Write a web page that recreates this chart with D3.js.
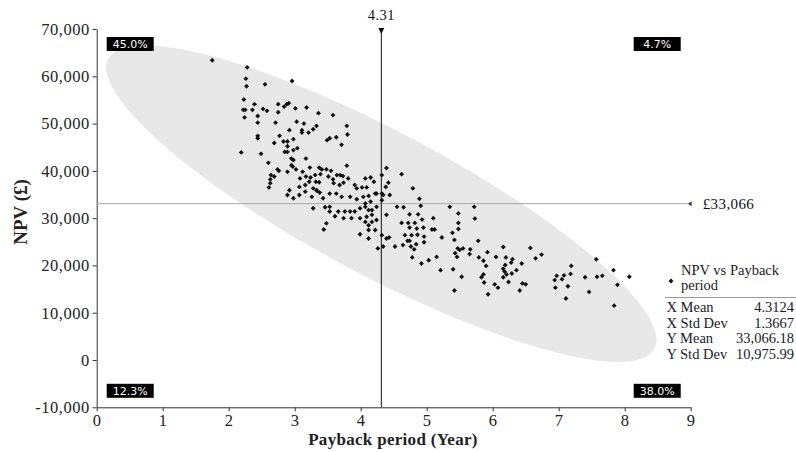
<!DOCTYPE html>
<html><head><meta charset="utf-8">
<script src="https://cdn.jsdelivr.net/npm/d3@7"></script>
<style>body{margin:0;background:#fff}svg{display:block}</style>
</head><body><svg id="c" width="796" height="452"></svg>
<script>
// ---- data ----
const paybackYears = [
1.75,2.28,2.26,2.27,2.55,2.96,2.23,2.22,2.25,2.36,2.39,2.52,2.58,2.24,2.44,2.44,2.75,2.84,2.88,2.91,
2.75,3.01,3.18,3.36,3.58,2.71,3.03,3.14,2.92,3.11,3.11,3.21,3.28,3.33,3.79,3.80,2.44,2.44,2.77,2.69,
2.83,2.89,2.98,2.89,2.85,2.89,2.98,3.04,3.49,3.53,3.63,3.71,2.19,2.49,2.95,2.98,2.95,2.97,3.17,2.60,
2.74,2.76,2.89,3.02,3.12,3.23,3.37,3.41,3.48,3.55,3.79,4.39,2.64,2.69,2.63,2.63,2.61,3.08,3.17,3.24,
3.31,3.39,3.51,3.58,3.64,3.69,3.73,3.81,3.22,3.32,3.37,3.59,3.68,3.74,3.07,3.16,3.28,3.33,2.92,3.91,
4.07,4.15,4.20,4.09,4.02,3.94,4.32,4.38,4.42,
2.89,2.98,3.07,3.16,3.26,3.34,3.38,3.43,3.53,3.63,3.71,3.84,3.94,4.04,4.12,4.22,4.24,4.32,4.34,4.44,
4.32,3.28,3.46,3.53,3.53,3.66,3.76,3.84,3.91,3.99,4.07,4.12,4.17,4.24,4.07,4.15,3.61,3.74,3.86,3.99,
4.09,4.17,4.39,4.55,3.48,3.44,4.07,4.12,4.17,4.24,4.12,4.22,4.32,4.43,4.39,3.99,4.12,4.26,4.34,4.52,
4.62,4.79,4.89,4.65,4.91,4.74,4.87,4.62,4.72,4.82,4.93,5.10,5.12,4.74,4.85,4.95,5.08,4.67,4.77,4.86,
4.96,4.71,4.74,4.84,4.96,4.64,4.76,4.81,4.78,4.92,5.03,5.15,5.21,5.23,5.35,5.48,5.72,5.73,5.48,5.48,
5.39,5.42,5.78,5.47,5.50,5.55,5.66,5.43,5.46,5.65,5.40,5.53,5.42,5.92,5.79,5.86,5.90,6.05,6.16,5.83,
5.86,5.87,5.93,6.03,6.08,6.20,6.30,6.28,6.19,6.16,6.18,6.21,6.29,6.36,6.44,6.16,6.24,6.41,6.45,6.50,
6.57,6.65,6.74,6.94,6.97,6.95,7.05,7.08,7.14,7.11,7.18,7.19,7.40,7.46,7.58,7.66,7.83,7.89,7.84,8.07,
7.57];
const npvValues = [
63400,61900,59500,57900,58300,59000,55100,52900,52900,52900,54100,53100,52700,51300,51600,50200,54100,53600,54100,54300,
52400,53200,53400,52200,51800,50200,50400,50000,48600,48600,48100,48100,48800,49500,49500,47700,47400,46900,47400,45900,
46200,46200,46700,45200,44000,44000,44400,44800,46500,46900,47100,45500,43900,43600,42600,42300,41200,40900,42600,41700,
40300,40000,39800,40300,39800,40700,40700,40300,40300,40000,41100,40600,39100,38800,38200,37400,36500,38400,38800,38600,
39100,39300,38800,38200,39100,39100,38900,38400,37700,37700,37600,37400,37000,37500,36600,37000,36300,35900,35900,37000,
38400,38600,37700,36500,36500,36300,39100,36600,37500,
34900,34200,34900,35600,34500,35800,35400,34200,35200,35200,34500,34500,34000,34500,34700,35200,35200,35200,34900,34900,
33800,32100,32300,32400,31400,31400,31400,31400,31400,32100,32400,31700,31700,32400,33100,33500,30400,30000,30000,30000,
30300,30700,30700,32400,28900,27600,29200,28500,29200,29600,27500,27500,26400,25900,25700,26600,25700,23600,24000,24000,
39300,36300,34100,32300,32600,30800,30800,29000,29000,29000,29700,30000,27600,28000,27800,28000,27600,26400,26400,26500,
26100,25200,25200,24500,24900,24300,24000,23400,21700,20400,21100,21800,19000,25900,32400,31000,32400,29900,29000,27700,
26900,25400,25200,23600,23300,23600,23400,22600,21800,22400,19200,17600,14700,22800,21700,21000,19900,21800,23900,17500,
18100,16400,13900,16000,15300,21700,21300,20600,20100,19300,18700,18100,18300,19000,20400,17500,16500,14700,16200,16000,
23700,21500,22300,16900,17800,15300,17100,17900,15600,13000,18200,19900,17500,14400,17600,17800,19000,15900,11500,17600,
21300];
const xTicks = [0,1,2,3,4,5,6,7,8,9];
const yTicks = [-10000,0,10000,20000,30000,40000,50000,60000,70000];
const seriesName = ["NPV vs Payback","period"];
const statLabels = ["X Mean","X Std Dev","Y Mean","Y Std Dev"];
const statText = ["4.3124","1.3667","33,066.18","10,975.99"];
const statNums = [4.3124,1.3667,33066.18,10975.99];
const meanLabels = ["4.31","£33,066"];
const quadrantLabels = ["45.0%","4.7%","12.3%","38.0%"];
const correlation = -0.86;
const ellipseK = 3.05;

// ---- drawing ----
const svg = d3.select("#c");
const x = d3.scaleLinear().domain([0,9]).range([96.7,690.7]);
const y = d3.scaleLinear().domain([-10000,70000]).range([407.3,29]);
const serif = "'Liberation Serif','Times New Roman',serif";

// ellipse
const [mx,sx,my,sy] = statNums;
const ts = d3.range(0,361,2).map(d=>d*Math.PI/180);
const sq = Math.sqrt(1-correlation*correlation);
const ell = ts.map(t=>[x(mx+ellipseK*sx*Math.cos(t)), y(my+ellipseK*sy*(correlation*Math.cos(t)+sq*Math.sin(t)))]);
svg.append("path").attr("d", d3.line()(ell)+"Z").attr("fill","#e8e8e8");

// axes
const fmt = d=>d3.format(",")(d).replace("\u2212","-");
const gy = svg.append("g").attr("transform",`translate(${x(0)},0)`)
  .call(d3.axisLeft(y).tickValues(yTicks).tickSize(4).tickSizeOuter(0).tickFormat(fmt));
const gx = svg.append("g").attr("transform",`translate(0,${y(-10000)})`)
  .call(d3.axisBottom(x).tickValues(xTicks).tickSize(4).tickSizeOuter(0).tickFormat(d3.format("d")));
[gx,gy].forEach(g=>{
  g.selectAll("path,line").attr("stroke","#333");
  g.selectAll("text").attr("font-family",serif).attr("font-size","16.5px").attr("letter-spacing","0.5px").attr("fill","#222");
});

// mean lines
const yM = y(my), xM = x(mx);
svg.append("line").attr("x1",x(0)).attr("x2",x(9)-3).attr("y1",yM).attr("y2",yM).attr("stroke","#aaa").attr("stroke-width",1);
svg.append("path").attr("d",`M${x(9)-3},${yM}L${x(9)+1},${yM-2.5}L${x(9)+1},${yM+2.5}Z`).attr("fill","#444");
svg.append("text").attr("x",x(9)+12).attr("y",yM+5).attr("font-family",serif).attr("font-size","15px").attr("letter-spacing","0.4px").attr("fill","#111").text(meanLabels[1]);

svg.append("line").attr("x1",xM).attr("x2",xM).attr("y1",y(70000)+3).attr("y2",y(-10000)).attr("stroke","#111").attr("stroke-width",1);
svg.append("path").attr("d",`M${xM-3},${y(70000)-1}L${xM+3},${y(70000)-1}L${xM},${y(70000)+5}Z`).attr("fill","#111");
svg.append("text").attr("x",xM).attr("y",20).attr("text-anchor","middle").attr("font-family",serif).attr("font-size","14.5px").attr("letter-spacing","0.4px").attr("fill","#111").text(meanLabels[0]);

// points
const sym = d3.symbol().type(d3.symbolDiamond2 || d3.symbolDiamond).size(15);
svg.append("g").selectAll("path").data(paybackYears.map((v,i)=>[v,npvValues[i]])).join("path")
  .attr("transform",d=>`translate(${x(d[0])},${y(d[1])})`).attr("d",sym).attr("fill","#111");

// quadrant labels
const qPos = [[x(0)+10,"start",y(70000)+8],[x(9)-10,"end",y(70000)+8],[x(0)+10,"start",y(-10000)-23.5],[x(9)-10,"end",y(-10000)-23.5]];
quadrantLabels.forEach((lab,i)=>{
  const [px,anc,py] = qPos[i];
  const w = 47, h = 14;
  const left = anc==="start"?px:px-w;
  svg.append("rect").attr("x",left).attr("y",py).attr("width",w).attr("height",h).attr("fill","#000");
  svg.append("text").attr("x",left+w/2).attr("y",py+11).attr("text-anchor","middle")
    .attr("font-family","'DejaVu Sans',sans-serif").attr("font-size","11px").attr("fill","#fff").text(lab);
});

// axis titles
svg.append("text").attr("x",393).attr("y",445).attr("text-anchor","middle").attr("font-family",serif)
  .attr("font-weight","bold").attr("font-size","17px").attr("letter-spacing","0.3px").attr("fill","#222").text("Payback period (Year)");
svg.append("text").attr("transform","translate(27,212) rotate(-90)").attr("text-anchor","middle").attr("font-family",serif)
  .attr("font-weight","bold").attr("font-size","19px").attr("fill","#222").text("NPV (£)");

// legend
const lg = svg.append("g");
lg.append("path").attr("transform","translate(671,281)").attr("d",sym).attr("fill","#111");
seriesName.forEach((s,i)=>lg.append("text").attr("x",681).attr("y",275+i*14.5).attr("font-family",serif)
  .attr("font-size","14.5px").attr("fill","#222").text(s));
lg.append("line").attr("x1",665).attr("x2",796).attr("y1",297.5).attr("y2",297.5).attr("stroke","#999");
statLabels.forEach((s,i)=>{
  lg.append("text").attr("x",666.5).attr("y",312+i*15.5).attr("font-family",serif).attr("font-size","14.5px").attr("fill","#1a1a2a").text(s);
  lg.append("text").attr("x",794).attr("y",312+i*15.5).attr("text-anchor","end").attr("font-family",serif).attr("font-size","14.5px").attr("fill","#1a1a2a").text(statText[i]);
});
</script></body></html>
